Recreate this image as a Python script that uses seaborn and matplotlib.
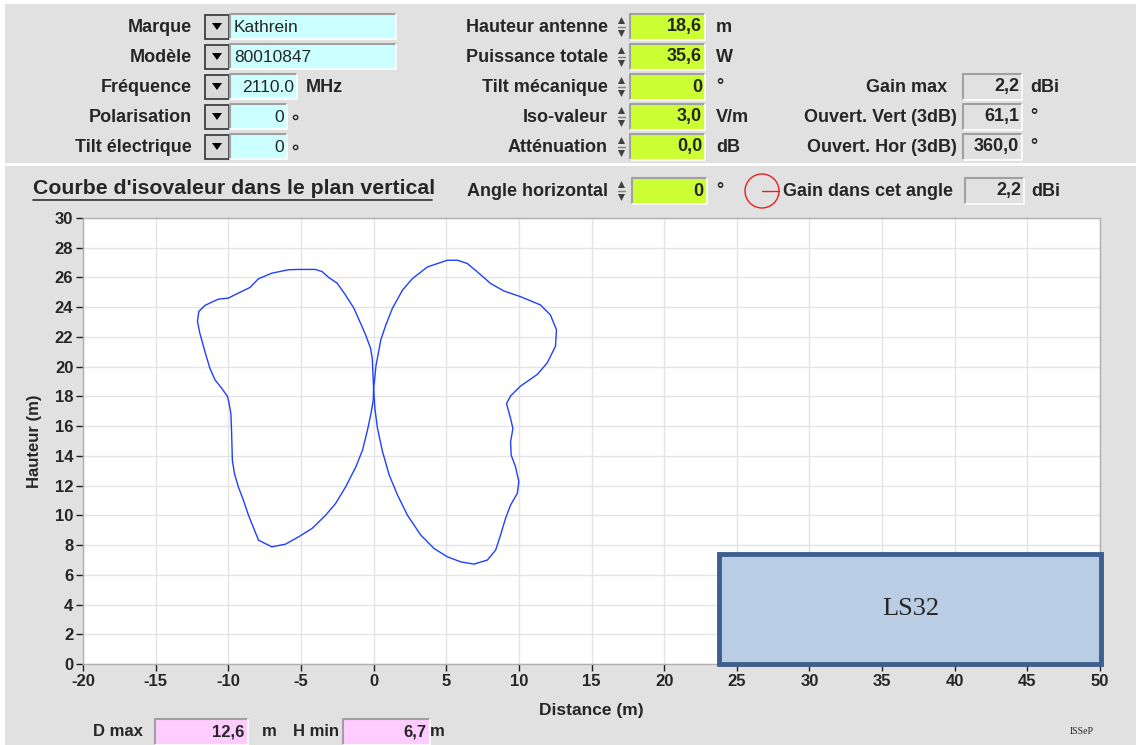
import numpy as np
import pandas as pd
import matplotlib
matplotlib.use('Agg')
import matplotlib.pyplot as plt
from matplotlib.patches import Rectangle, Circle, Polygon
import seaborn as sns

# courbe d'isovaleur dans le plan vertical (m)
dist_droit = [0.0, 0.05, 0.16, 0.5, 0.85, 1.30, 1.99, 2.68, 3.71, 5.08, 5.77, 6.45, 7.14, 8.05, 8.97,
              10.11, 11.49, 12.17, 12.59, 12.52, 11.95, 11.26, 10.11, 9.43, 9.15, 9.43, 9.59, 9.43, 9.47,
              9.77, 10.0, 9.89, 9.43, 9.08, 8.74, 8.40, 7.83, 6.91, 6.0, 5.08, 4.16, 3.25, 2.33, 1.65,
              1.08, 0.62, 0.27, 0.09, 0.0]
haut_droit = [18.6, 18.92, 20.03, 21.81, 22.82, 23.93, 25.15, 25.93, 26.71, 27.16, 27.16, 26.94, 26.38, 25.6,
              25.09, 24.71, 24.15, 23.48, 22.48, 21.37, 20.25, 19.47, 18.69, 18.03, 17.52, 16.52, 15.84,
              14.95, 14.05, 13.26, 12.26, 11.47, 10.69, 9.79, 8.67, 7.66, 6.99, 6.72, 6.87, 7.21, 7.77,
              8.67, 10.01, 11.36, 12.70, 14.27, 15.84, 17.19, 18.6]
dist_gauche = [0.0, -0.02, -0.09, -0.21, -0.55, -0.9, -1.36, -1.94, -2.51, -3.09, -3.55, -4.01, -5.16, -5.85,
               -7.0, -7.93, -8.5, -9.31, -10.0, -10.69, -11.61, -12.03, -12.12, -11.96, -11.61, -11.27,
               -10.92, -10.46, -10.05, -9.95, -9.82, -9.77, -9.72, -9.58, -9.31, -8.96, -8.61, -8.38,
               -7.92, -7.0, -6.07, -5.15, -4.23, -3.30, -2.61, -1.92, -1.22, -0.76, -0.42, -0.18, -0.02, 0.0]
haut_gauche = [18.6, 19.0, 20.57, 21.25, 22.14, 22.93, 23.94, 24.83, 25.62, 26.0, 26.4, 26.54, 26.54, 26.52,
               26.29, 25.91, 25.33, 24.95, 24.61, 24.54, 24.12, 23.71, 23.04, 22.26, 21.02, 19.9, 19.12,
               18.56, 17.99, 17.55, 16.85, 15.51, 13.71, 12.82, 11.92, 11.02, 10.01, 9.45, 8.33, 7.88,
               8.06, 8.56, 9.12, 10.01, 10.80, 11.92, 13.26, 14.39, 15.73, 16.85, 17.75, 18.6]

x_ticks = list(range(-20, 51, 5))
y_ticks = list(range(0, 31, 2))

# zone LS32 (m)
zone_nom = 'LS32'
zone_x = [23.8, 50.1]
zone_y = [0.0, 7.4]

# panneau de saisie
champs_gauche = ['Marque', 'Modèle', 'Fréquence', 'Polarisation', 'Tilt électrique']
valeurs_gauche = ['Kathrein', '80010847', '2110.0', '0', '0']
unites_gauche = ['', '', 'MHz', '∘', '∘']

champs_milieu = ['Hauteur antenne', 'Puissance totale', 'Tilt mécanique', 'Iso-valeur', 'Atténuation']
valeurs_milieu = ['18,6', '35,6', '0', '3,0', '0,0']
unites_milieu = ['m', 'W', '°', 'V/m', 'dB']

champs_droite = ['Gain max', 'Ouvert. Vert (3dB)', 'Ouvert. Hor (3dB)']
valeurs_droite = ['2,2', '61,1', '360,0']
unites_droite = ['dBi', '°', '°']

angle_horizontal = '0'
gain_angle = '2,2'
d_max = '12,6'
h_min = '6,7'

CYAN = '#ccffff'
VERT = '#ccff33'
ROSE = '#ffccff'
GRIS = '#e1e1e1'

sns.set_style('whitegrid')
plt.rcParams['font.family'] = ['Liberation Sans', 'DejaVu Sans']
plt.rcParams['axes.unicode_minus'] = False

fig = plt.figure(figsize=(11.36, 7.45), dpi=100, facecolor=GRIS)

# calque d'interface en pixels
ui = fig.add_axes([0, 0, 1, 1], zorder=0)
ui.set_xlim(0, 1136)
ui.set_ylim(745, 0)
ui.axis('off')
ui.patch.set_alpha(0)


def boite(x0, x1, yc, couleur, h=26):
    y0 = yc - 13
    ui.add_patch(Rectangle((x0, y0), x1 - x0, h, fc=couleur, ec='none'))
    ui.plot([x0, x0, x1], [y0 + h, y0, y0], color='#a0a0a0', lw=1.5)
    ui.plot([x0, x1, x1], [y0 + h, y0 + h, y0], color='white', lw=1.2)


def bouton(yc):
    ui.add_patch(Rectangle((205, yc - 12), 24, 24, fc='#d9d9d9', ec='#404040', lw=1.3))
    ui.add_patch(Polygon([(212, yc - 4), (222, yc - 4), (217, yc + 3)], fc='black', ec='none'))


def fleches(x, yc):
    ui.add_patch(Polygon([(x, yc - 3), (x + 7, yc - 3), (x + 3.5, yc - 10)], fc='#404040', ec='none'))
    ui.add_patch(Polygon([(x, yc + 3), (x + 7, yc + 3), (x + 3.5, yc + 10)], fc='#404040', ec='none'))
    ui.plot([x, x + 7], [yc, yc], color='#808080', lw=1)


lab = dict(fontsize=13, fontweight='bold', va='center')
bas = dict(fontsize=12, fontweight='bold', va='center')

ui.add_patch(Rectangle((0, 0), 1136, 4, fc='white', ec='none'))
ui.add_patch(Rectangle((0, 0), 5, 745, fc='white', ec='none'))
ui.plot([5, 1136], [164, 164], color='white', lw=2)

fins_gauche = [396, 396, 297, 287, 287]
for i, (c, v, u) in enumerate(zip(champs_gauche, valeurs_gauche, unites_gauche)):
    yc = 27 + 30 * i
    ui.text(192, yc, c, ha='right', **lab)
    bouton(yc)
    boite(230, fins_gauche[i], yc, CYAN, h=25)
    if i < 2:
        ui.text(234, yc, v, ha='left', va='center', fontsize=12.5)
    else:
        ui.text(fins_gauche[i] - 3, yc, v, ha='right', va='center', fontsize=12.5)
    if u == 'MHz':
        ui.text(fins_gauche[i] + 9, yc, u, ha='left', **lab)
    elif u:
        ui.text(fins_gauche[i] + 2, yc + 1, u, ha='left', **lab)

for i, (c, v, u) in enumerate(zip(champs_milieu, valeurs_milieu, unites_milieu)):
    yc = 27 + 30 * i
    ui.text(608, yc, c, ha='right', **lab)
    fleches(618, yc)
    boite(630, 705, yc, VERT)
    ui.text(702, yc, v, ha='right', **lab)
    ui.text(716, yc, u, ha='left', **lab)

for i, (c, v, u) in enumerate(zip(champs_droite, valeurs_droite, unites_droite)):
    yc = 87 + 30 * i
    ui.text(947 if i == 0 else 957, yc, c, ha='right', **lab)
    boite(963, 1022, yc, GRIS)
    ui.text(1019, yc, v, ha='right', **lab)
    ui.text(1030, yc, u, ha='left', **lab)

# ligne de titre
ui.text(33, 189, "Courbe d'isovaleur dans le plan vertical", ha='left', va='center',
        fontsize=15.3, fontweight='bold')
ui.plot([33, 432], [200, 200], color='#303030', lw=1.2)
ui.text(608, 192, 'Angle horizontal', ha='right', **lab)
fleches(618, 191)
boite(632, 707, 191, VERT)
ui.text(703, 191, angle_horizontal, ha='right', **lab)
ui.text(716, 191, '°', ha='left', **lab)
ui.add_patch(Circle((762, 191), 17, fc='none', ec='#e82020', lw=1))
ui.plot([762, 779], [191, 191], color='#e82020', lw=1)
ui.text(783, 192, 'Gain dans cet angle', ha='left', **lab)
boite(965, 1024, 191, GRIS)
ui.text(1021, 191, gain_angle, ha='right', **lab)
ui.text(1031, 191, 'dBi', ha='left', **lab)

# bas
ui.text(93, 732, 'D max', ha='left', **bas)
boite(155, 248, 732, ROSE)
ui.text(244, 732, d_max, ha='right', **bas)
ui.text(262, 732, 'm', ha='left', **bas)
ui.text(293, 732, 'H min', ha='left', **bas)
boite(343, 430, 732, ROSE)
ui.text(426, 732, h_min, ha='right', **bas)
ui.text(430, 732, 'm', ha='left', **bas)
ui.text(1070, 731, 'ISSeP', ha='left', va='center', fontsize=7, family='Liberation Serif')

# graphique
ax = fig.add_axes([83 / 1136, 81 / 745, 1017 / 1136, 446 / 745], zorder=1)
ax.set_facecolor('white')

df_d = pd.DataFrame({'distance': dist_droit, 'hauteur': haut_droit})
df_g = pd.DataFrame({'distance': dist_gauche, 'hauteur': haut_gauche})
sns.lineplot(data=df_d, x='distance', y='hauteur', sort=False, estimator=None, color='#2040ff', lw=1, ax=ax)
sns.lineplot(data=df_g, x='distance', y='hauteur', sort=False, estimator=None, color='#2040ff', lw=1, ax=ax)

ax.set_xlim(-20, 50)
ax.set_ylim(0, 30)
ax.set_xticks(x_ticks)
ax.set_yticks(y_ticks)
ax.grid(True, color='#e4e4e4', lw=1)
for s in ax.spines.values():
    s.set_color('#b0b0b0')
    s.set_linewidth(1)
ax.tick_params(axis='both', which='both', direction='out', length=5, width=1, color='#202020',
               labelsize=12, pad=2, left=True, bottom=True)
for t in ax.get_xticklabels() + ax.get_yticklabels():
    t.set_fontweight('bold')
ax.set_xlabel('Distance (m)', fontsize=12.5, fontweight='bold', labelpad=10)
ax.set_ylabel('Hauteur (m)', fontsize=12, fontweight='bold', labelpad=9)

ax.add_patch(Rectangle((zone_x[0], zone_y[0]), zone_x[1] - zone_x[0], zone_y[1] - zone_y[0],
                       fc='#b9cde5', ec='#3c5f8d', lw=3.5, clip_on=False, zorder=5))
ax.text(sum(zone_x) / 2, sum(zone_y) / 2, zone_nom, ha='center', va='center', fontsize=19,
        family='Liberation Serif', zorder=6)

fig.savefig('out.png', dpi=100, facecolor=fig.get_facecolor())
